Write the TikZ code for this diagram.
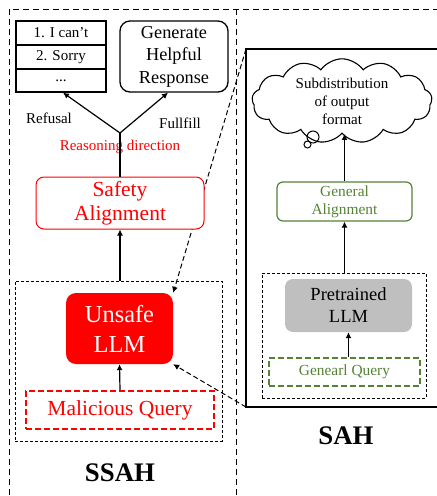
\documentclass[tikz,border=0pt]{standalone}
\usepackage{fontspec}
\setmainfont{Liberation Serif}
\usepackage{tikz}
\usetikzlibrary{
  arrows.meta,
  backgrounds,
  shapes.symbols
}
\definecolor{ssahred}{RGB}{255,0,0}
\definecolor{sahgreen}{RGB}{84,130,53}
\definecolor{sahgray}{RGB}{191,191,191}
\tikzset{
  panelLine/.style={
    draw=black,
    line width=1pt,
    dash pattern=on 6pt off 4pt
  },
  coreBox/.style={
    rectangle,
    draw=black,
    line width=1pt,
    dash pattern=on 3pt off 2pt,
    inner sep=0pt
  },
  optionBox/.style={
    rectangle,
    draw=black,
    line width=1.3pt,
    minimum width=90pt,
    align=center,
    font=\fontsize{15}{18}\selectfont
  },
  answerBox/.style={
    rectangle,
    rounded corners=10pt,
    draw=black,
    line width=1.3pt,
    align=center,
    font=\fontsize{18.3}{22.5}\selectfont
  },
  safetyBox/.style={
    rectangle,
    rounded corners=8pt,
    draw=ssahred,
    fill=white,
    line width=1pt,
    text=ssahred,
    align=center,
    font=\fontsize{21.5}{24}\selectfont
  },
  unsafeBox/.style={
    rectangle,
    rounded corners=10pt,
    fill=ssahred,
    text=white,
    align=center,
    font=\fontsize{24.4}{30}\selectfont
  },
  queryBox/.style={
    rectangle,
    line width=2pt,
    dash pattern=on 6pt off 3pt,
    align=center
  },
  generalBox/.style={
    rectangle,
    rounded corners=6pt,
    draw=sahgreen,
    line width=1.2pt,
    text=sahgreen,
    align=center,
    font=\fontsize{15.4}{18.3}\selectfont
  },
  pretrainedBox/.style={
    rectangle,
    rounded corners=8pt,
    fill=sahgray,
    align=center,
    font=\fontsize{18.5}{22}\selectfont
  },
  edgeLabel/.style={
    font=\fontsize{15}{18}\selectfont
  },
  panelTitle/.style={
    font=\fontsize{26.8}{30}\selectfont\bfseries
  },
  flowArrow/.style={
    -{Latex[length=6pt,width=6pt]},
    line width=1.2pt,
    draw=black
  },
  zoomArrow/.style={
    -{Latex[length=6pt,width=6pt]},
    line width=1pt,
    dash pattern=on 5pt off 3pt,
    draw=black
  }
}

\begin{document}
\begin{tikzpicture}[x=1pt,y=-1pt]
  \useasboundingbox (0,0) rectangle (437,496);

  % the two panels
  \draw[panelLine] (9,505) -- (9,9) -- (445,9);
  \draw[panelLine] (236,9) -- (236,505);

  % ---- SSAH panel ----
  \node[coreBox, minimum width=207pt, minimum height=160pt]
    (ssahcore) at (118.5,361) {};
  \node[unsafeBox, minimum width=107pt, minimum height=71pt]
    (unsafe) at (119.5,328.5) {Unsafe\\LLM};
  \node[queryBox, draw=ssahred, text=ssahred,
    minimum width=188pt, minimum height=38pt,
    font=\fontsize{21.5}{24}\selectfont]
    (malicious) at (120,410) {Malicious Query};
  \node[safetyBox, minimum width=168pt, minimum height=52pt]
    (safety) at (120,203) {Safety\\Alignment};

  \node[optionBox, minimum height=24pt] (opt1) at (61,33) {1. I can’t};
  \node[optionBox, minimum height=24pt] (opt2) at (61,57) {2. Sorry};
  \node[optionBox, minimum height=23pt] (opt3) at (61,80.5) {...};
  \node[answerBox, minimum width=108pt, minimum height=71pt]
    (generate) at (174,56.5) {Generate\\Helpful\\Response};

  \coordinate (fork) at (120,133);
  \node[edgeLabel] (refusal) at (49,118) {Refusal};
  \node[edgeLabel] (fullfill) at (180,123) {Fullfill};
  \node[edgeLabel, text=ssahred] (reasoning) at (120,147) {Reasoning direction};

  \node[panelTitle] (ssahtitle) at (120,473) {SSAH};

  \draw[line width=1.2pt] (safety.north) -- (fork);
  \draw[flowArrow] (fork) -- ([xshift=2pt]opt3.south);
  \draw[flowArrow] (fork) -- ([xshift=-6pt]generate.south);
  \draw[flowArrow] (safety.south |- ssahcore.north) -- (safety.south);
  \draw[flowArrow] (malicious.north) -- (unsafe.south);

  % ---- SAH panel ----
  % frame runs off the right edge, so only three sides are drawn
  \coordinate (sahtl) at (246,49);
  \coordinate (sahbl) at (246,407);
  \draw[line width=1.3pt] (450,49) -- (sahtl) -- (sahbl) -- (450,407);
  \node[coreBox, minimum width=164pt, minimum height=125pt]
    (sahcore) at (344,335.5) {};
  \node[pretrainedBox, minimum width=127pt, minimum height=53pt]
    (pretrained) at (348.5,305.5) {Pretrained\\LLM};
  \node[queryBox, draw=sahgreen, text=sahgreen,
    minimum width=151pt, minimum height=28pt,
    font=\fontsize{15.4}{18}\selectfont]
    (genq) at (344.5,372) {Genearl Query};
  \node[generalBox, minimum width=135pt, minimum height=39pt]
    (general) at (344.5,201.5) {General\\Alignment};
  \node[cloud, draw=black, line width=1.1pt, cloud puffs=13,
    cloud puff arc=110, aspect=2.5, minimum width=180pt,
    minimum height=72pt, inner sep=0pt, align=center,
    font=\fontsize{15}{18}\selectfont]
    (format) at (342,101) {Subdistribution\\of output\\format};
  \draw[line width=1pt] (313,137) circle (6pt);
  \draw[line width=1pt] (307.5,144.5) circle (3.5pt);

  \node[panelTitle] (sahtitle) at (346,436) {SAH};

  \draw[flowArrow] (general.north) -- (general.north |- format.south);
  \draw[flowArrow] (general.south |- sahcore.north) -- (general.south);
  \draw[flowArrow] (pretrained.south |- genq.north) -- (pretrained.south);

  % zoom connectors, kept behind the boxes
  \begin{pgfonlayer}{background}
    \draw[zoomArrow] (sahtl) -- (unsafe.north east);
    \draw[zoomArrow] (sahbl) -- (unsafe.south east);
  \end{pgfonlayer}
\end{tikzpicture}
\end{document}
